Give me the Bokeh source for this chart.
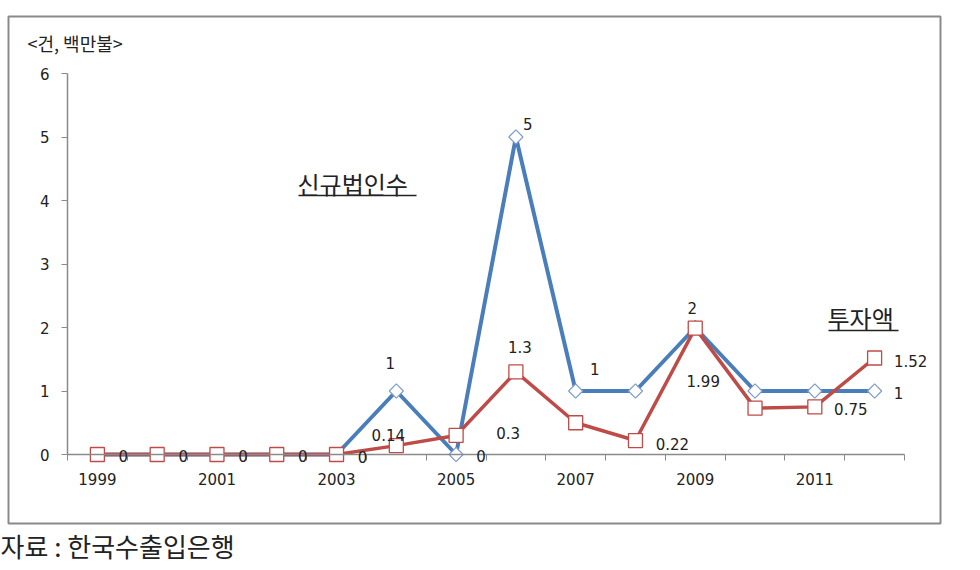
from bokeh.plotting import figure
from bokeh.models import Range1d, FixedTicker, Label, BoxAnnotation
from bokeh.embed import file_html
from bokeh.resources import INLINE
import math

# ---- data ----
years = [1999, 2000, 2001, 2002, 2003, 2004, 2005, 2006, 2007, 2008, 2009, 2010, 2011, 2012]
new_corps = [0, 0, 0, 0, 0, 1, 0, 5, 1, 1, 2, 1, 1, 1]           # 신규법인수 (건)
investment = [0, 0, 0, 0, 0, 0.14, 0.3, 1.3, 0.5, 0.22, 1.99, 0.73, 0.75, 1.52]  # 투자액 (백만불)
x_tick_years = [1999, 2001, 2003, 2005, 2007, 2009, 2011]
y_ticks = [0, 1, 2, 3, 4, 5, 6]
unit_text = "<건, 백만불>"
series_blue_name = "신규법인수"
series_red_name = "투자액"
source_text = "자료 : 한국수출입은행"

# which points carry a value label
blue_labeled = [2004, 2005, 2006, 2007, 2009, 2012]
red_labeled = [1999, 2000, 2001, 2002, 2003, 2004, 2005, 2006, 2008, 2009, 2011, 2012]

# ---- style (label offsets in px: dx right, dy up) ----
blue_offsets = {2004: (-6, 28), 2005: (25, -1), 2006: (12, 13), 2007: (19, 22), 2009: (-3, 20), 2012: (24, -2)}
red_offsets = {1999: (26, -1), 2000: (26, -1), 2001: (26, -1), 2002: (26, -1), 2003: (26, -2),
               2004: (-8, 11), 2005: (52, 2), 2006: (4, 25), 2008: (37, -3), 2009: (8, -53),
               2011: (36, -2), 2012: (36, -3)}

BLUE = "#4A7EBB"
RED = "#BE4B48"
TXT = "#222222"
AX = "#8a8a8a"
NUM_FONT = "DejaVu Sans"
KR_FONT = "Noto Sans CJK KR"
NUM_SIZE = "15px"

W, H = 980, 570
# plot area in page pixels
F_LEFT, F_RIGHT, F_TOP, F_BOTTOM = 67, 904, 73, 454
X0, X1 = years[0] - 0.5, years[-1] + 0.5
Y0, Y1 = y_ticks[0], y_ticks[-1]
xs = (F_RIGHT - F_LEFT) / (X1 - X0)
ys = (F_BOTTOM - F_TOP) / (Y1 - Y0)
xr = Range1d(X0 - F_LEFT / xs, X1 + (W - F_RIGHT) / xs)
yr = Range1d(Y0 - (H - F_BOTTOM) / ys, Y1 + F_TOP / ys)

def px_x(px):
    return xr.start + px / xs

def px_y(py):
    return yr.end - py / ys

p = figure(width=W, height=H, output_backend="svg", toolbar_location=None,
           x_range=xr, y_range=yr,
           min_border_left=0, min_border_right=0, min_border_top=0, min_border_bottom=0)
p.title.visible = False
p.outline_line_color = None
p.grid.visible = False
p.background_fill_color = "white"
p.border_fill_color = "white"

# axes (fixed inside the full-canvas frame)
xa = p.xaxis[0]
xa.fixed_location = 0
xa.bounds = (X0, X1)
xa.ticker = FixedTicker(ticks=x_tick_years, minor_ticks=[y - 0.5 for y in years] + [years[-1] + 0.5])
xa.major_label_overrides = {y: str(y) for y in x_tick_years}
xa.major_tick_out = 0
xa.major_tick_in = 0
xa.minor_tick_out = 6
xa.minor_tick_in = 0
xa.minor_tick_line_color = AX
xa.axis_line_color = AX
xa.axis_line_width = 1.5
xa.major_label_standoff = 12
xa.major_label_text_font = NUM_FONT
xa.major_label_text_font_size = NUM_SIZE
xa.major_label_text_color = TXT

ya = p.yaxis[0]
ya.fixed_location = X0
ya.bounds = (Y0, Y1)
ya.ticker = FixedTicker(ticks=y_ticks)
ya.major_tick_out = 6
ya.major_tick_in = 0
ya.minor_tick_line_color = None
ya.major_tick_line_color = AX
ya.axis_line_color = AX
ya.axis_line_width = 1.5
ya.major_label_standoff = 12
ya.major_label_text_font = NUM_FONT
ya.major_label_text_font_size = NUM_SIZE
ya.major_label_text_color = TXT

# outer box
p.add_layout(BoxAnnotation(left=px_x(8), right=px_x(940), top=px_y(16), bottom=px_y(523),
                           fill_alpha=0, line_color=AX, line_width=2, line_alpha=1, level="underlay"))

# lines & markers
p.line(years, new_corps, line_color=BLUE, line_width=4)
p.line(years, investment, line_color=RED, line_width=3.5)
p.scatter(years, new_corps, marker="square", angle=math.pi / 4, size=10, fill_color="white",
          line_color="#7F9CC8", line_width=1.2)
p.scatter(years, investment, marker="square", size=14, fill_color="white",
          line_color=RED, line_width=1.3)

def fmt(v):
    return f"{v:g}"

for yr_ in blue_labeled:
    i = years.index(yr_)
    dx, dy = blue_offsets[yr_]
    p.add_layout(Label(x=years[i], y=new_corps[i], text=fmt(new_corps[i]), x_offset=dx, y_offset=dy,
                       text_align="center", text_baseline="middle", text_font=NUM_FONT,
                       text_font_size=NUM_SIZE, text_color=TXT))
for yr_ in red_labeled:
    i = years.index(yr_)
    dx, dy = red_offsets[yr_]
    p.add_layout(Label(x=years[i], y=investment[i], text=fmt(investment[i]), x_offset=dx, y_offset=dy,
                       text_align="center", text_baseline="middle", text_font=NUM_FONT,
                       text_font_size=NUM_SIZE, text_color=TXT))

# series name annotations (underlined)
p.add_layout(Label(x=px_x(297), y=px_y(183), text=series_blue_name, text_align="left",
                   text_baseline="middle", text_font=KR_FONT, text_font_size="24px", text_color=TXT))
p.segment(x0=[px_x(298)], y0=[px_y(195)], x1=[px_x(416)], y1=[px_y(195)], line_color=TXT, line_width=1.3)
p.add_layout(Label(x=px_x(827), y=px_y(317), text=series_red_name, text_align="left",
                   text_baseline="middle", text_font=KR_FONT, text_font_size="24px", text_color=TXT))
p.segment(x0=[px_x(828)], y0=[px_y(330)], x1=[px_x(898)], y1=[px_y(330)], line_color=TXT, line_width=1.3)

# unit label and source
p.add_layout(Label(x=px_x(27), y=px_y(42), text=unit_text, text_align="left", text_baseline="middle",
                   text_font=KR_FONT, text_font_size="18px", text_color=TXT))
p.add_layout(Label(x=px_x(0), y=px_y(545), text=source_text, text_align="left", text_baseline="middle",
                   text_font=KR_FONT, text_font_size="26px", text_color=TXT))

open("out.html", "w").write(file_html(p, INLINE))
